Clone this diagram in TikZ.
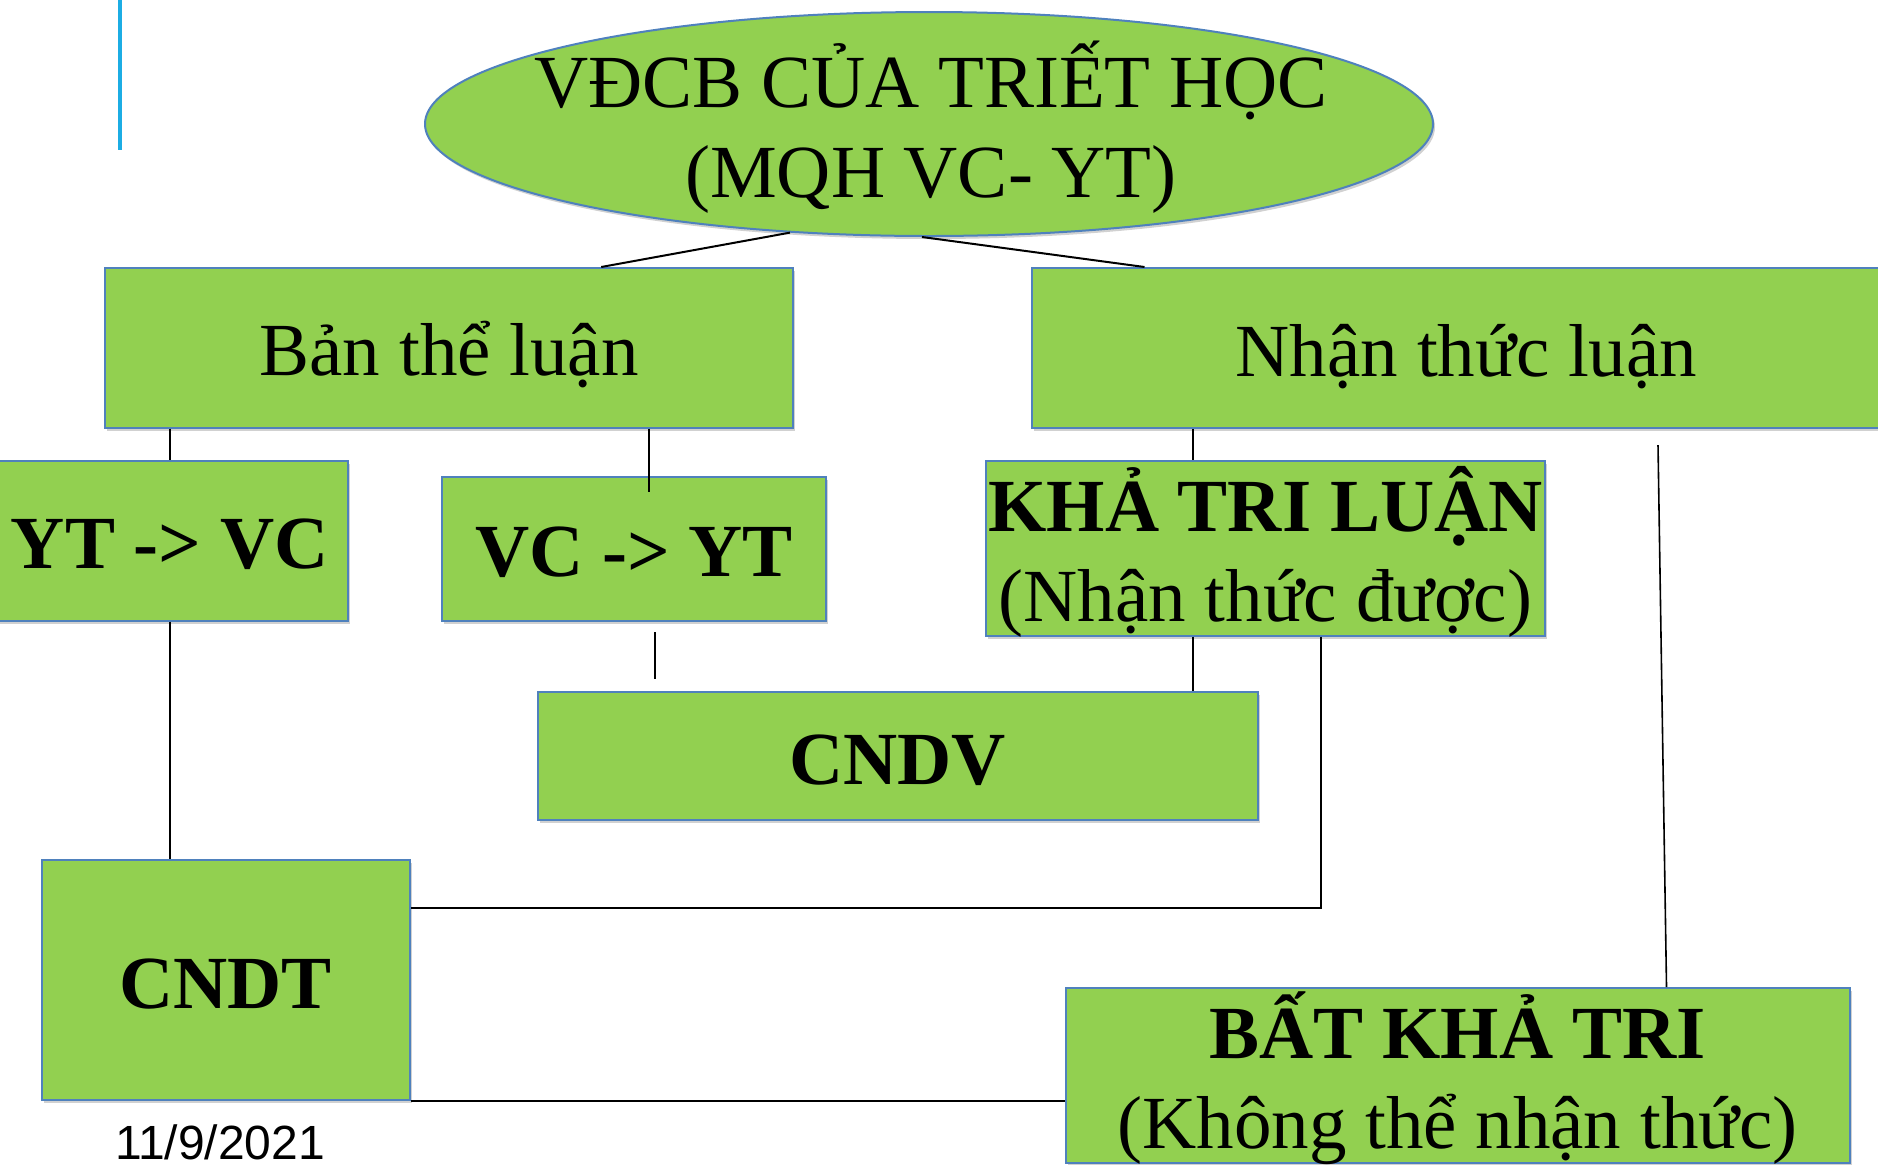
\documentclass[tikz,border=0pt]{standalone}
\usepackage{fontspec}
\setmainfont{Liberation Serif}
\newfontfamily\datefont{Liberation Sans}
\usetikzlibrary{shapes.geometric,shadows,calc}

\definecolor{leafgreen}{HTML}{92D050}
\definecolor{edgeblue}{HTML}{4F81BD}
\definecolor{railblue}{HTML}{1CADE4}

\newcommand{\cardfont}{\fontsize{37.5}{45}\selectfont}
% struts so that two-line texts sit the same way in every box
\newcommand{\tallstrut}{\rule{0pt}{40pt}}
\newcommand{\deepstrut}{\rule[-12pt]{0pt}{12pt}}

\begin{document}
\begin{tikzpicture}[
  x=0.5pt, y=-0.5pt,
  card/.style={draw=edgeblue, fill=leafgreen, line width=1pt, rectangle, inner sep=0pt,
    align=center, font=\cardfont,
    drop shadow={shadow xshift=1pt, shadow yshift=-1.5pt, opacity=0.3, fill=black!60}},
  oneline/.style={text height=28pt, text depth=0pt},
  twoline/.style={inner ysep=-6pt},
  heavy/.style={font=\cardfont\bfseries},
  link/.style={line width=0.8pt}
]
\useasboundingbox (0,0) rectangle (1878,1164);
% rail at the left
\draw[railblue, line width=2pt] (120,0) -- (120,150);

% top ellipse
\node[ellipse, draw=edgeblue, fill=leafgreen, line width=1pt, inner sep=0pt,
  minimum width=504pt, minimum height=112pt,
  drop shadow={shadow xshift=1pt, shadow yshift=-1.5pt, opacity=0.3, fill=black!60}] (top) at (929,124) {};
\node[font=\cardfont, align=center, inner sep=0pt] (toptext) at (931,124) {\tallstrut VĐCB CỦA TRIẾT HỌC\\(MQH VC- YT)\deepstrut};

% boxes
\node[card, oneline, minimum width=343.8pt, minimum height=79.8pt] (ontology) at (449.2,347.8) {Bản thể luận};
\node[card, oneline, minimum width=434.5pt, minimum height=80pt] (epist) at (1466.5,348) {Nhận thức luận};
\node[card, oneline, heavy, minimum width=177.9pt, minimum height=80pt] (ytvc) at (169.8,540.7) {YT -> VC};
\node[card, oneline, heavy, minimum width=192.2pt, minimum height=72pt] (vcyt) at (633.9,548.7) {VC -> YT};
\node[card, twoline, minimum width=279.7pt, minimum height=87.5pt] (knowable) at (1265.4,548.2) {\tallstrut{\bfseries KHẢ TRI LUẬN}\\(Nhận thức được)\deepstrut};
\node[card, oneline, heavy, minimum width=359.9pt, minimum height=64.2pt] (cndv) at (897.7,756.2) {CNDV};
\node[card, oneline, heavy, minimum width=183.9pt, minimum height=120pt] (cndt) at (225.8,980) {CNDT};
\node[card, twoline, minimum width=392pt, minimum height=87.5pt] (unknow) at (1457.5,1075.5) {\tallstrut{\bfseries BẤT KHẢ TRI}\\(Không thể nhận thức)\deepstrut};

\node[font=\datefont\fontsize{24}{28}\selectfont, anchor=base, inner sep=0pt] (date) at (220,1159) {11/9/2021};

% connectors
\draw[line width=1pt] (top.218) -- ($(ontology.north)+(152,0)$);
\draw[line width=1pt] ($(top.south)+(-7,0)$) -- ($(epist.north)+(-322,0)$);
\draw[link] (ytvc.north |- ontology.south) -- (ytvc.north);
\coordinate (vcytin) at (649,492);
\draw[link] (vcytin |- ontology.south) -- (vcytin);
\coordinate (stubtop) at (655,632);
\coordinate (stubbot) at (655,679);
\draw[link] (stubtop) -- (stubbot);
\coordinate (midx) at (1193,0);
\draw[link] (midx |- epist.south) -- (midx |- knowable.north);
\draw[link] (midx |- knowable.south) -- (midx |- cndv.north);
\coordinate (sidex) at (1321,0);
\draw[link] (sidex |- knowable.south) |- ($(cndt.east)+(0,-72)$);
\draw[link] (ytvc.south) -- (ytvc.south |- cndt.north);
\coordinate (farx) at (1658,445);
\draw[link] (farx) -- ($(unknow.north)+(209,0)$);
\draw[link] (cndt.south east) -- (cndt.south east -| unknow.west);
\end{tikzpicture}
\end{document}
